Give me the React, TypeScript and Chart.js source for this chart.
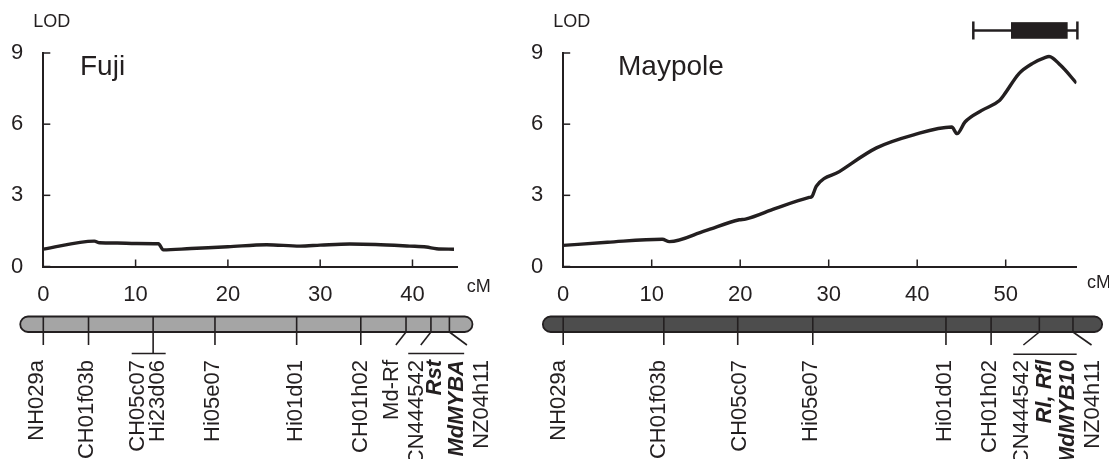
import React, { useEffect, useRef } from "react";
import { Chart, registerables } from "chart.js";

Chart.register(...registerables);

const INK = "#231f20";
const FONT = "'Liberation Sans', Arial, Helvetica, sans-serif";

// ---------- Fuji ----------
const fujiCM = [0, 5.53, 6.1, 8, 10, 12.47, 13.0, 16, 20, 24.2, 27.8, 30, 33.2, 36, 39.7, 41.5, 42.6, 44.5];
const fujiLOD = [0.73, 1.07, 1.0, 0.99, 0.97, 0.96, 0.7, 0.76, 0.83, 0.92, 0.86, 0.9, 0.95, 0.93, 0.86, 0.82, 0.75, 0.73];
const fujiMarkerPos = [0, 4.9, 11.9, 18.6, 27.45, 34.4, 39.3, 42.0, 44.0];
const fujiLineEnd = [0, 4.9, 11.9, 18.6, 27.45, 34.4, 38.2, 40.9, 45.9];
const fujiLineToBracket = [false, false, true, false, false, false, false, false, false];
const fujiLabels = ["NH029a", "CH01f03b", "CH05c07", "Hi23d06", "Hi05e07", "Hi01d01", "CH01h02", "Md-Rf", "CN444542", "Rst", "MdMYBA", "NZ04h11"];
const fujiLabelPos = [-0.7, 4.7, 10.3, 12.4, 18.33, 27.4, 34.4, 37.75, 40.45, 42.44, 44.79, 47.5];
const fujiLabelBold = [false, false, false, false, false, false, false, false, false, true, true, false];
const fujiBrackets = [[9.58, 13.26], [39.54, 45.6]];
const fujiChromosome = [-2.5, 46.5];

// ---------- Maypole ----------
const maypoleCM = [0, 5, 11.2, 12.0, 16, 19.9, 20.6, 24, 27.8, 28.1, 28.6, 31.2, 35.4, 39.6, 43.9, 44.5, 45.4, 47.3, 49.3, 49.8, 51.5, 53, 54.5, 54.9, 56.2, 58.0];
const maypoleLOD = [0.89, 1.02, 1.15, 1.05, 1.5, 1.97, 2.0, 2.45, 2.91, 2.95, 3.38, 4.0, 5.0, 5.55, 5.88, 5.6, 6.09, 6.58, 7.0, 7.23, 8.13, 8.55, 8.82, 8.85, 8.48, 7.73];
const maypoleMarkerPos = [0, 11.37, 19.72, 28.2, 43.25, 48.35, 53.8, 57.6];
const maypoleLineEnd = [0, 11.37, 19.72, 28.2, 43.25, 48.35, 52.0, 59.7];
const maypoleLineToBracket = [false, false, false, false, false, false, false, false];
const maypoleLabels = ["NH029a", "CH01f03b", "CH05c07", "Hi05e07", "Hi01d01", "CH01h02", "CN444542", "Rl, Rfl", "MdMYB10", "NZ04h11"];
const maypoleLabelPos = [-0.43, 10.81, 19.93, 27.99, 43.14, 48.23, 51.8, 54.44, 57.07, 59.9];
const maypoleLabelBold = [false, false, false, false, false, false, false, true, true, false];
const maypoleBrackets = [[50.86, 58.02]];
const maypoleChromosome = [-2.3, 60.9];
const maypoleQtlWhisker = [46.34, 58.1];
const maypoleQtlBox = [50.6, 57.0];
const maypoleQtlLOD = 9.95;

const lodTicks = [0, 3, 6, 9];

type Panel = {
  title: string;
  titleDx: number;
  cmDx: number;
  cmY: number;
  padLeft: number;
  yWidth: number;
  padRight: number;
  xMax: number;
  cm: number[];
  lod: number[];
  markerPos: number[];
  lineEnd: number[];
  lineToBracket: boolean[];
  labels: string[];
  labelPos: number[];
  labelBold: boolean[];
  brackets: number[][];
  chromosome: number[];
  barColor: string;
  bracketY: number;
  qtl?: { whisker: number[]; box: number[]; lod: number };
};

const panels: Panel[] = [
  {
    title: "Fuji", titleDx: 36.7, cmDx: 9, cmY: 292,
    padLeft: 0, yWidth: 43.3, padRight: 1109 - 457.7, xMax: 44.9,
    cm: fujiCM, lod: fujiLOD, markerPos: fujiMarkerPos, lineEnd: fujiLineEnd,
    lineToBracket: fujiLineToBracket, labels: fujiLabels, labelPos: fujiLabelPos,
    labelBold: fujiLabelBold, brackets: fujiBrackets, chromosome: fujiChromosome,
    barColor: "#a5a5a5", bracketY: 353.5,
  },
  {
    title: "Maypole", titleDx: 54.8, cmDx: 10.5, cmY: 288,
    padLeft: 520, yWidth: 43.2, padRight: 1109 - 1076.5, xMax: 58.0,
    cm: maypoleCM, lod: maypoleLOD, markerPos: maypoleMarkerPos, lineEnd: maypoleLineEnd,
    lineToBracket: maypoleLineToBracket, labels: maypoleLabels, labelPos: maypoleLabelPos,
    labelBold: maypoleLabelBold, brackets: maypoleBrackets, chromosome: maypoleChromosome,
    barColor: "#4d4d4d", bracketY: 354.3,
    qtl: { whisker: maypoleQtlWhisker, box: maypoleQtlBox, lod: maypoleQtlLOD },
  },
];

const panelPlugin = {
  id: "panelDecor",
  afterDraw(chart: any, _args: any, opts: any) {
    const p: Panel = opts.panel;
    const ctx: CanvasRenderingContext2D = chart.ctx;
    const xs = chart.scales.x;
    const ys = chart.scales.y;
    const a = chart.chartArea;
    const X = (v: number) => xs.getPixelForValue(v);
    const line = (x1: number, y1: number, x2: number, y2: number) => {
      ctx.beginPath();
      ctx.moveTo(x1, y1);
      ctx.lineTo(x2, y2);
      ctx.stroke();
    };
    ctx.save();
    ctx.strokeStyle = INK;
    ctx.fillStyle = INK;
    // inward ticks
    ctx.lineWidth = 1.5;
    xs.ticks.forEach((t: any) => {
      const x = X(t.value);
      line(x, a.bottom, x, a.bottom - 7);
    });
    ys.ticks.forEach((t: any) => {
      const y = ys.getPixelForValue(t.value);
      line(a.left, y, a.left + 7, y);
    });
    // axis titles
    ctx.textBaseline = "alphabetic";
    ctx.font = `18px ${FONT}`;
    ctx.textAlign = "center";
    ctx.fillText("LOD", a.left + 8.5, 27);
    ctx.textAlign = "left";
    ctx.fillText("cM", a.right + p.cmDx, p.cmY);
    ctx.font = `28px ${FONT}`;
    ctx.fillText(p.title, a.left + p.titleDx, 75);

    // QTL interval
    if (p.qtl) {
      const yq = ys.getPixelForValue(p.qtl.lod);
      ctx.lineWidth = 2.5;
      const w0 = X(p.qtl.whisker[0]);
      const w1 = X(p.qtl.whisker[1]);
      line(w0, yq, w1, yq);
      line(w0, yq - 9, w0, yq + 9);
      line(w1, yq - 9, w1, yq + 9);
      const b0 = X(p.qtl.box[0]);
      const b1 = X(p.qtl.box[1]);
      ctx.fillRect(b0, yq - 8.3, b1 - b0, 16.6);
    }

    // chromosome bar
    const top = 316.5, bot = 332;
    const c0 = X(p.chromosome[0]);
    const c1 = X(p.chromosome[1]);
    ctx.beginPath();
    (ctx as any).roundRect(c0, top, c1 - c0, bot - top, (bot - top) / 2);
    ctx.fillStyle = p.barColor;
    ctx.fill();
    ctx.lineWidth = 1.8;
    ctx.strokeStyle = INK;
    ctx.stroke();
    ctx.fillStyle = INK;

    // marker ticks and connectors
    ctx.lineWidth = 1.6;
    p.markerPos.forEach((m, i) => {
      const x = X(m);
      line(x, top, x, bot);
      const xe = X(p.lineEnd[i]);
      line(x, bot, xe, p.lineToBracket[i] ? p.bracketY : 345);
    });
    p.brackets.forEach((b) => line(X(b[0]), p.bracketY, X(b[1]), p.bracketY));

    // labels
    p.labels.forEach((txt, i) => {
      ctx.save();
      ctx.translate(X(p.labelPos[i]), 360);
      ctx.rotate(-Math.PI / 2);
      ctx.textAlign = "right";
      ctx.textBaseline = "middle";
      ctx.font = `${p.labelBold[i] ? "italic bold " : ""}22px ${FONT}`;
      ctx.fillText(txt, 0, 0);
      ctx.restore();
    });
    ctx.restore();
  },
};

function PanelChart({ panel }: { panel: Panel }) {
  const ref = useRef<HTMLCanvasElement>(null);
  useEffect(() => {
    if (!ref.current) return;
    const chart = new Chart(ref.current, {
      type: "line",
      data: {
        datasets: [
          {
            data: panel.cm.map((x, i) => ({ x, y: panel.lod[i] })),
            borderColor: INK,
            borderWidth: 3.4,
            pointRadius: 0,
            cubicInterpolationMode: "monotone",
            fill: false,
          },
        ],
      },
      options: {
        responsive: false,
        animation: false,
        devicePixelRatio: 1,
        events: [],
        layout: {
          padding: { left: panel.padLeft, right: panel.padRight, top: 53, bottom: 459 - 266.5 - 40 },
        },
        plugins: {
          legend: { display: false },
          tooltip: { enabled: false },
          panelDecor: { panel },
        } as any,
        scales: {
          x: {
            type: "linear",
            min: 0,
            max: panel.xMax,
            grid: { display: false, drawTicks: false },
            border: { display: true, color: INK, width: 2 },
            ticks: {
              stepSize: 10,
              includeBounds: false,
              autoSkip: false,
              maxRotation: 0,
              padding: 15,
              color: INK,
              font: { size: 22, family: FONT },
            },
            afterFit: (s: any) => {
              s.height = 40;
            },
          },
          y: {
            type: "linear",
            min: 0,
            max: 9,
            afterBuildTicks: (s: any) => {
              s.ticks = lodTicks.map((v) => ({ value: v }));
            },
            grid: { display: false, drawTicks: false },
            border: { display: true, color: INK, width: 2 },
            ticks: {
              padding: 20,
              color: INK,
              font: { size: 22, family: FONT },
            },
            afterFit: (s: any) => {
              s.width = panel.yWidth;
            },
          },
        },
      },
      plugins: [panelPlugin],
    });
    return () => chart.destroy();
  }, [panel]);
  return (
    <canvas
      ref={ref}
      width={1109}
      height={459}
      style={{ position: "absolute", left: 0, top: 0, width: 1109, height: 459 }}
    />
  );
}

export default function App() {
  return (
    <div style={{ position: "absolute", left: 0, top: 0, width: 1109, height: 459, background: "#fff", overflow: "hidden" }}>
      {panels.map((p) => (
        <PanelChart key={p.title} panel={p} />
      ))}
    </div>
  );
}
